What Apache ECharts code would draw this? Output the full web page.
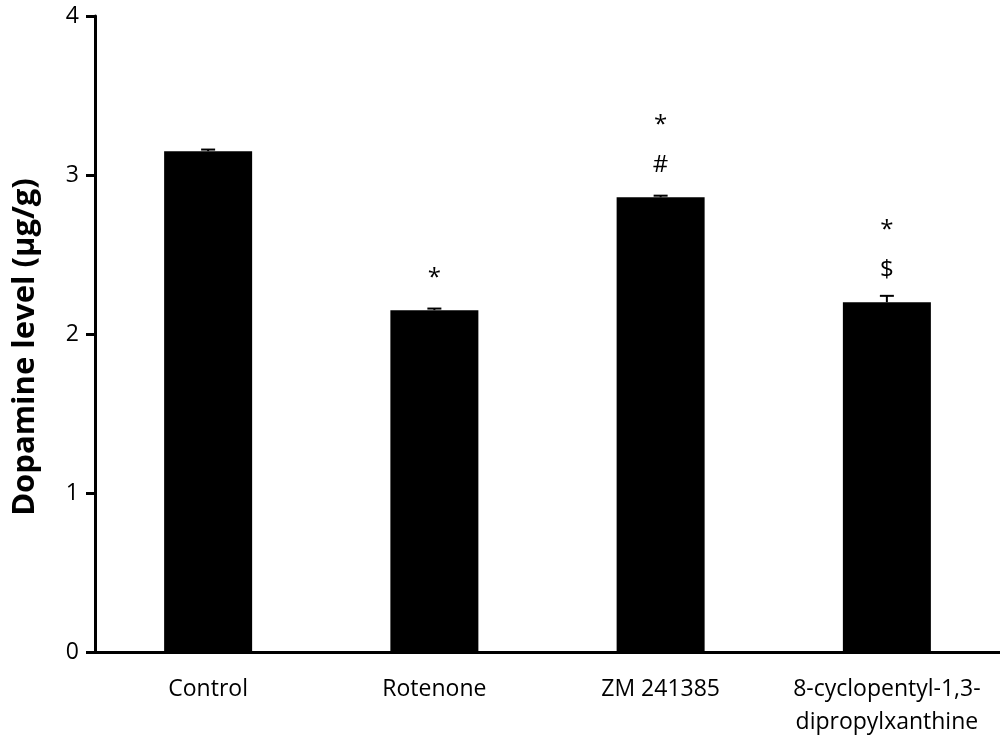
<!DOCTYPE html>
<html>
<head>
<meta charset="UTF-8">
<script src="https://cdn.jsdelivr.net/npm/echarts@6/dist/echarts.min.js"></script>
<style>
    html, body { margin: 0; padding: 0; background: #fff; }
    #chart { width: 1000px; height: 744px; }
</style>
</head>
<body>
<div id="chart"></div>
<script>
    var categories = ['Control', 'Rotenone', 'ZM 241385', '8-cyclopentyl-1,3-\ndipropylxanthine'];
    var means = [3.15, 2.15, 2.86, 2.20];
    var errors = [0.01, 0.01, 0.01, 0.04];
    var marks = ['', '*', '*\n#', '*\n$'];
    var yTicks = [0, 1, 2, 3, 4];

    var font = 'Open Sans, Liberation Sans, sans-serif';
    var chart = echarts.init(document.getElementById('chart'));

    var option = {
        animation: false,
        grid: { left: 95, right: 0, top: 16, bottom: 92 },
        xAxis: {
            type: 'category',
            data: categories,
            axisLine: { lineStyle: { color: '#000', width: 3 } },
            axisTick: { show: false },
            axisLabel: {
                interval: 0,
                hideOverlap: false,
                color: '#000', fontSize: 23, fontFamily: font, margin: 21, lineHeight: 33
            }
        },
        yAxis: {
            type: 'value',
            min: yTicks[0],
            max: yTicks[yTicks.length - 1],
            interval: 1,
            name: 'Dopamine level (µg/g)',
            nameLocation: 'middle',
            nameGap: 54,
            nameTextStyle: {
                color: '#000', fontSize: 31, fontWeight: 'bold', fontFamily: font,
                padding: [0, 26, 0, 0]
            },
            axisLine: { show: true, lineStyle: { color: '#000', width: 3 } },
            axisTick: { show: true, length: 9, lineStyle: { color: '#000', width: 3 } },
            axisLabel: { color: '#000', fontSize: 23, fontFamily: font, margin: 16 },
            splitLine: { show: false }
        },
        series: [
            {
                type: 'bar',
                data: means,
                barWidth: 88,
                itemStyle: { color: '#000' },
                label: {
                    show: true,
                    position: 'top',
                    distance: 12,
                    color: '#000',
                    fontSize: 24,
                    fontFamily: font,
                    lineHeight: 40,
                    formatter: function (p) { return marks[p.dataIndex]; }
                },
                z: 2
            },
            {
                type: 'custom',
                z: 3,
                data: means.map(function (m, i) { return [i, m, m + errors[i]]; }),
                renderItem: function (params, api) {
                    var base = api.coord([api.value(0), api.value(1)]);
                    var top = api.coord([api.value(0), api.value(2)]);
                    var hw = 7;
                    var style = { stroke: '#000', lineWidth: 2 };
                    return {
                        type: 'group',
                        children: [
                            { type: 'line', shape: { x1: base[0], y1: base[1], x2: top[0], y2: top[1] }, style: style },
                            { type: 'line', shape: { x1: top[0] - hw, y1: top[1], x2: top[0] + hw, y2: top[1] }, style: style }
                        ]
                    };
                }
            }
        ]
    };
    chart.setOption(option);
</script>
</body>
</html>
